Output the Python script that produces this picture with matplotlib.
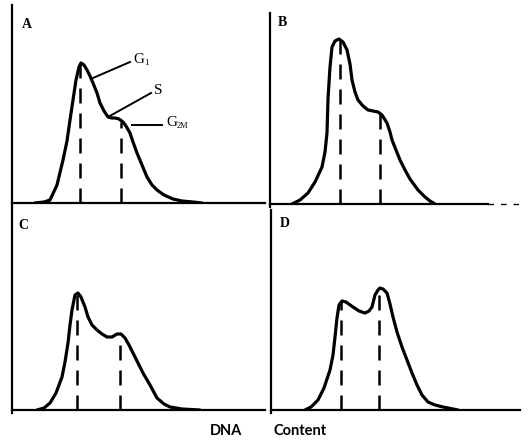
import matplotlib.pyplot as plt

# DNA content histograms (x = channel, y = cell count)
xa = [23, 32, 38, 45, 51, 55, 58, 61, 64, 67, 69, 72, 75, 78, 81, 85, 88, 92, 96, 100, 103, 107, 111, 114, 118, 121, 125, 130, 135, 140, 145, 152, 161, 170, 181, 190]
ya = [0, 1, 3, 18, 43, 62, 83, 103, 123, 136, 140, 138, 133, 127, 120, 110, 100, 92, 86, 85, 85, 84, 81, 77, 70, 61, 50, 38, 26, 18, 13, 8, 4, 2, 1, 0]

xb = [22, 30, 38, 45, 52, 55, 57, 58, 60, 62, 65, 69, 73, 77, 80, 82, 85, 88, 93, 98, 103, 108, 112, 117, 120, 122, 126, 130, 135, 140, 148, 155, 160, 165]
yb = [0, 4, 11, 22, 37, 52, 71, 105, 137, 157, 163, 165, 162, 154, 140, 124, 112, 104, 98, 94, 93, 92, 89, 81, 72, 64, 54, 44, 34, 25, 14, 7, 3, 0]

xc = [25, 32, 38, 44, 50, 53, 56, 58, 60, 63, 66, 69, 73, 76, 80, 85, 90, 95, 100, 105, 109, 113, 117, 121, 126, 131, 138, 145, 152, 158, 170, 188]
yc = [0, 2, 7, 17, 33, 48, 67, 85, 100, 115, 117, 113, 103, 93, 85, 80, 76, 73, 73, 76, 76, 72, 65, 57, 47, 37, 25, 12, 6, 3, 1, 0]

xd = [34, 40, 47, 53, 59, 62, 64, 66, 68, 71, 75, 82, 88, 94, 98, 101, 104, 107, 109, 112, 116, 119, 122, 126, 131, 136, 141, 146, 151, 157, 164, 172, 187]
yd = [0, 3, 10, 22, 40, 55, 73, 92, 105, 109, 108, 103, 99, 97, 99, 103, 115, 120, 122, 121, 117, 106, 93, 78, 63, 50, 37, 25, 15, 8, 5, 3, 0]

# G1 and G2M peak markers (channel, height of the dashed line)
g1_x = [68, 70, 65, 70]
g1_h = [140, 165, 117, 109]
g2_x = [109, 110, 108, 108]
g2_h = [81, 92, 75, 121]

panels = ["A", "B", "C", "D"]
curves = [(xa, ya), (xb, yb), (xc, yc), (xd, yd)]

W, H = 530, 440
fig = plt.figure(figsize=(5.3, 4.4), dpi=100)

# axes boxes in pixels: left, baseline (from top), top (from top), right end of baseline
boxes = [(12, 203, 5, 265), (270, 204, 13, 520), (12, 410, 208, 265), (271, 410, 210, 520)]
# panel letter offsets (pixels right of axis, pixels below top)
label_pos = [(10, 20), (8, 10), (6, 17), (9, 13)]

serif = "Liberation Serif"
for i, (left, base, top, right) in enumerate(boxes):
    ax = fig.add_axes([left / W, (H - base) / H, (right - left) / W, (base - top) / H])
    ax.set_xlim(0, right - left)
    ax.set_ylim(0, base - top)
    ax.axis("off")

    # axes
    ax.plot([0, 0], [-3, base - top], color="black", lw=1.6, clip_on=False)
    if i == 1:
        ax.plot([0, 218], [0, 0], color="black", lw=1.6, clip_on=False)
        ax.plot([218, right - left], [0, 0], color="black", lw=1.0, ls=(0, (4, 5)), clip_on=False)
    else:
        ax.plot([0, right - left], [0, 0], color="black", lw=1.6, clip_on=False)

    x, y = curves[i]
    ax.plot(x, y, color="black", lw=2.3, solid_capstyle="round", solid_joinstyle="round")
    ax.plot([g1_x[i], g1_x[i]], [0, g1_h[i]], color="black", lw=1.8, ls=(0, (6, 4)))
    ax.plot([g2_x[i], g2_x[i]], [0, g2_h[i]], color="black", lw=1.8, ls=(0, (6, 4)))

    lx, ly = label_pos[i]
    ax.text(lx, base - top - ly, panels[i], fontsize=10, fontfamily=serif,
            fontweight="bold", va="center", ha="left")

    if i == 0:
        # phase labels
        ax.plot([81, 118], [125, 141], color="black", lw=1.4)
        ax.text(121, 143, "G", fontsize=11, fontfamily=serif, va="center")
        ax.text(132, 140, "1", fontsize=6.5, fontfamily=serif, va="center")
        ax.plot([96, 139], [86, 110], color="black", lw=1.4)
        ax.text(142, 112, "S", fontsize=11, fontfamily=serif, va="center")
        ax.plot([120, 150], [78, 78], color="black", lw=1.4)
        ax.text(154, 80, "G", fontsize=11, fontfamily=serif, va="center")
        ax.text(165, 77, "2M", fontsize=6, fontfamily=serif, va="center")

fig.text(226 / W, 1 - 431 / H, "DNA", fontsize=10.5, fontfamily="Lato", fontweight="bold",
         ha="center", va="center")
fig.text(300 / W, 1 - 431 / H, "Content", fontsize=10.5, fontfamily="Lato", fontweight="bold",
         ha="center", va="center")

fig.savefig("out.png", dpi=100)
plt.close()
